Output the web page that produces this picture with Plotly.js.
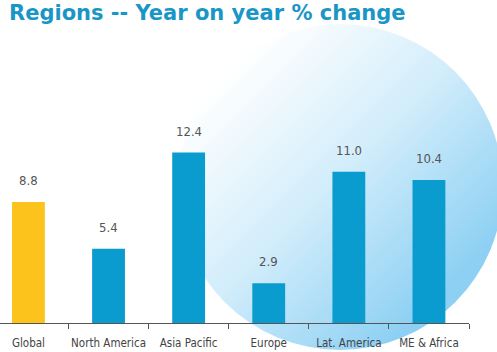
<!DOCTYPE html>
<html>
<head>
<meta charset="utf-8">
<script src="https://cdn.plot.ly/plotly-3.0.1.min.js"></script>
<style>
  html, body { margin:0; padding:0; background:#ffffff; }
  #wrap { position:relative; width:497px; height:352px; overflow:hidden; background:#ffffff; }
  #bubble { position:absolute; left:177px; top:24px; width:326px; height:326px; border-radius:50%;
            background: linear-gradient(135deg, #ffffff 15%, #d2edfb 48%, #8dd0f3 82%); }
  #chart { position:absolute; left:0; top:0; width:497px; height:352px; }
</style>
</head>
<body>
<div id="wrap">
  <div id="bubble"></div>
  <div id="chart"></div>
</div>
<script>
const categories = ["Global", "North America", "Asia Pacific", "Europe", "Lat. America", "ME & Africa"];
const changes = [8.8, 5.4, 12.4, 2.9, 11.0, 10.4];
const barColors = ["#fcc31c", "#0a9ccf", "#0a9ccf", "#0a9ccf", "#0a9ccf", "#0a9ccf"];
const titleText = "Regions -- Year on year % change";

const narrow = "'Liberation Sans Narrow', 'DejaVu Sans Condensed', 'Arial Narrow', sans-serif";

const trace = {
  type: "bar",
  x: categories,
  y: changes,
  marker: { color: barColors, line: { width: 0 } },
  width: 0.41,
  hoverinfo: "skip"
};

const annotations = categories.map((c, i) => ({
  x: c, y: changes[i], xref: "x", yref: "y",
  text: changes[i].toFixed(1),
  showarrow: false, yanchor: "bottom", yshift: 12,
  font: { family: narrow, size: 13, color: "#555555" }
}));

const layout = {
  width: 497, height: 352,
  margin: { l: 0, r: 28, t: 60, b: 29, pad: 0 },
  paper_bgcolor: "rgba(0,0,0,0)",
  plot_bgcolor: "rgba(0,0,0,0)",
  showlegend: false,
  title: {
    text: titleText,
    xref: "container", yref: "container",
    x: 9/497, xanchor: "left",
    y: 1 - 5/352, yanchor: "top",
    font: { family: "'DejaVu Sans', Verdana, sans-serif", size: 21, color: "#1a96c6", weight: "bold" }
  },
  xaxis: {
    type: "category",
    range: [-0.355, 5.5],
    tickson: "boundaries",
    tickangle: 0,
    ticks: "outside", ticklen: 5, tickwidth: 1, tickcolor: "#555555",
    ticklabelstandoff: 9,
    showline: true, linecolor: "#555555", linewidth: 1,
    showgrid: false, zeroline: false,
    tickfont: { family: narrow, size: 11.5, color: "#444444" },
    automargin: false,
    fixedrange: true
  },
  yaxis: {
    range: [0, 19.13],
    visible: false,
    showgrid: false, zeroline: false,
    fixedrange: true
  },
  annotations: annotations
};

Plotly.newPlot("chart", [trace], layout, { displayModeBar: false, staticPlot: true });
</script>
</body>
</html>
